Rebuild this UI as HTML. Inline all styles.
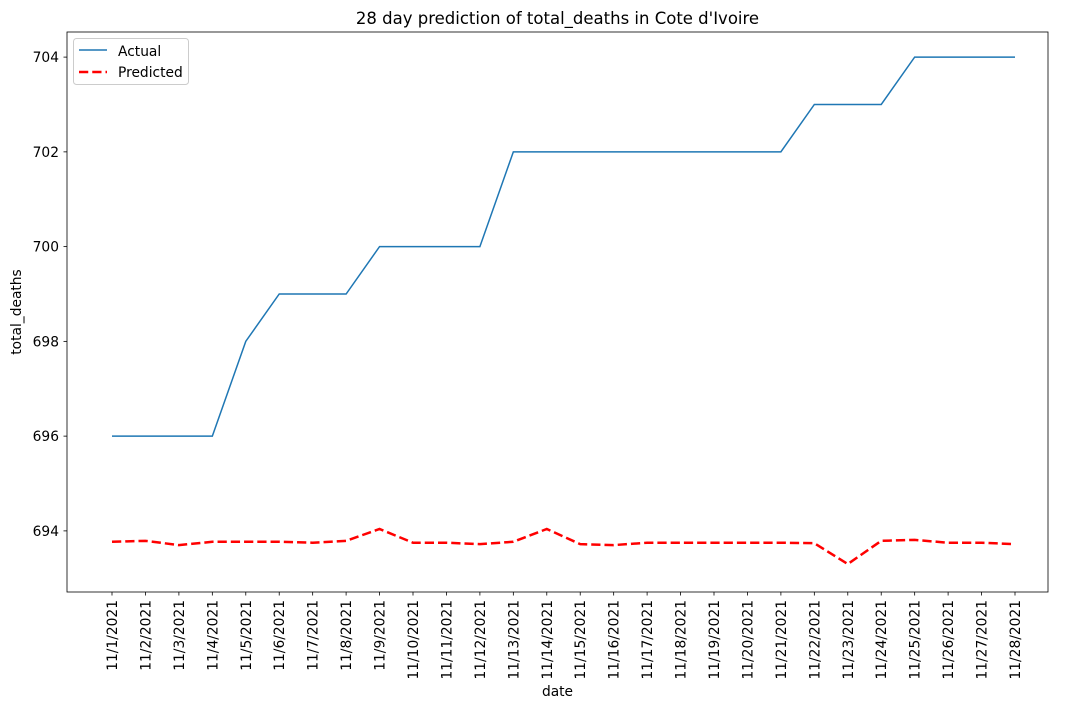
<!DOCTYPE html>
<html><head><meta charset="utf-8"><style>
body{margin:0;background:#fff;font-family:"Liberation Sans","DejaVu Sans",sans-serif;}
svg text{font-family:"DejaVu Sans","Liberation Sans",sans-serif;}
</style></head><body>
<svg id="chart" width="1070" height="709" xmlns="http://www.w3.org/2000/svg"></svg>
<script>
const dates = ["11/1/2021","11/2/2021","11/3/2021","11/4/2021","11/5/2021","11/6/2021","11/7/2021","11/8/2021","11/9/2021","11/10/2021","11/11/2021","11/12/2021","11/13/2021","11/14/2021","11/15/2021","11/16/2021","11/17/2021","11/18/2021","11/19/2021","11/20/2021","11/21/2021","11/22/2021","11/23/2021","11/24/2021","11/25/2021","11/26/2021","11/27/2021","11/28/2021"];
const actual = [696,696,696,696,698,699,699,699,700,700,700,700,702,702,702,702,702,702,702,702,702,703,703,703,704,704,704,704];
const predicted = [693.77,693.79,693.70,693.77,693.77,693.77,693.75,693.79,694.04,693.75,693.75,693.72,693.77,694.04,693.72,693.70,693.75,693.75,693.75,693.75,693.75,693.74,693.30,693.79,693.81,693.75,693.75,693.72];
const yTicks = [694,696,698,700,702,704];

const NS="http://www.w3.org/2000/svg";
const svg=document.getElementById('chart');
const L=67,R=1048,T=32,B=592;
const yMin=692.71,yMax=704.53;
const x=i=>112+i*(1015-112)/(dates.length-1);
const y=v=>B-(v-yMin)/(yMax-yMin)*(B-T);
function el(tag,attrs,parent){const e=document.createElementNS(NS,tag);for(const k in attrs)e.setAttribute(k,attrs[k]);(parent||svg).appendChild(e);return e;}

const frame=el('rect',{x:L,y:T,width:R-L,height:B-T,fill:'none',stroke:'#000','stroke-width':0.8});



yTicks.forEach(v=>{
  const g=el('g',{});
  
  
  el('line',{x1:L-3.5,x2:L,y1:y(v),y2:y(v),stroke:'#000','stroke-width':0.8},g);
  const t=el('text',{x:L-8,y:y(v)+5,'text-anchor':'end','font-size':13.8},g);t.textContent=v;
});
dates.forEach((d,i)=>{
  const g=el('g',{});
  
  
  el('line',{x1:x(i),x2:x(i),y1:B,y2:B+3.5,stroke:'#000','stroke-width':0.8},g);
  const t=el('text',{transform:`translate(${x(i)+5},${B+8}) rotate(-90)`,'text-anchor':'end','font-size':13.8},g);t.textContent=d;
});

const pa=el('polyline',{points:actual.map((v,i)=>x(i)+','+y(v)).join(' '),fill:'none',stroke:'#1f77b4','stroke-width':1.5});


const pp=el('polyline',{points:predicted.map((v,i)=>x(i)+','+y(v)).join(' '),fill:'none',stroke:'#ff0000','stroke-width':2.5,'stroke-dasharray':'9.25,4'});



const title=el('text',{x:(L+R)/2,y:24,'text-anchor':'middle','font-size':16.5});title.textContent="28 day prediction of total_deaths in Cote d'Ivoire";


const xl=el('text',{x:(L+R)/2,y:696,'text-anchor':'middle','font-size':13.8});xl.textContent='date';


const yl=el('text',{transform:'translate(21,312) rotate(-90)','text-anchor':'middle','font-size':13.8});yl.textContent='total_deaths';



const lg=el('g',{});


el('rect',{x:73.5,y:38.5,width:115,height:46,rx:3,fill:'#fff',stroke:'#ccc'},lg);
el('line',{x1:79,x2:107,y1:50,y2:50,stroke:'#1f77b4','stroke-width':1.5},lg);
let t1=el('text',{x:118,y:56,'font-size':13.8},lg);t1.textContent='Actual';
el('line',{x1:79,x2:107,y1:72,y2:72,stroke:'#ff0000','stroke-width':2.5,'stroke-dasharray':'9.25,4'},lg);
let t2=el('text',{x:118,y:77,'font-size':13.8},lg);t2.textContent='Predicted';
</script>
</body></html>
